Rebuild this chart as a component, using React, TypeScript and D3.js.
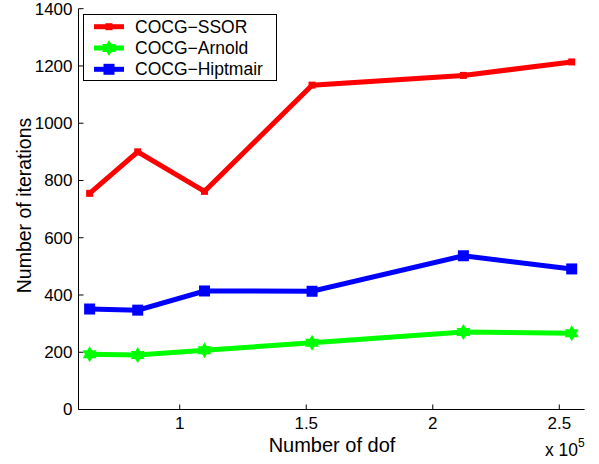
import React from 'react';
import * as d3 from 'd3';

const dof = [0.644, 0.834, 1.098, 1.523, 2.121, 2.549]; // x 1e5
const ssor = [755, 900, 762, 1133, 1167, 1214];
const arnold = [193, 190, 207, 233, 271, 266];
const hiptmair = [351, 347, 414, 413, 537, 491];
const seriesNames = ['COCG−SSOR', 'COCG−Arnold', 'COCG−Hiptmair'];
const seriesColors = ['#ff0000', '#00ff00', '#0000ff'];
const seriesMarkers = ['smallsquare', 'hexagram', 'square'];
const xTicks = [1, 1.5, 2, 2.5];
const yTicks = [0, 200, 400, 600, 800, 1000, 1200, 1400];
const xLabel = 'Number of dof';
const yLabel = 'Number of iterations';

const W = 599, H = 464;
const left = 78.5, right = 584.6, top = 8.7, bottom = 409.5;
const FONT = '"Liberation Sans", Arial, Helvetica, sans-serif';

function hexagram(r: number) {
  const pts: [number, number][] = [];
  const ri = r * 0.58;
  for (let i = 0; i < 12; i++) {
    const a = -Math.PI / 2 + (i * Math.PI) / 6;
    const rr = i % 2 === 0 ? r : ri;
    pts.push([rr * Math.cos(a), rr * Math.sin(a)]);
  }
  return 'M' + pts.map((p) => p[0].toFixed(2) + ',' + p[1].toFixed(2)).join('L') + 'Z';
}

function Marker({ kind, x, y, color }: { kind: string; x: number; y: number; color: string }) {
  if (kind === 'square') {
    const s = 11;
    return <rect x={x - s / 2} y={y - s / 2} width={s} height={s} fill={color} />;
  }
  if (kind === 'smallsquare') {
    const s = 7;
    return <rect x={x - s / 2} y={y - s / 2} width={s} height={s} fill={color} />;
  }
  return <path d={hexagram(8)} transform={`translate(${x},${y})`} fill={color} />;
}

export default function App() {
  const xs = d3.scaleLinear().domain([0.6, 2.6]).range([left, right]);
  const ys = d3.scaleLinear().domain([0, 1400]).range([bottom, top]);
  const data = [ssor, arnold, hiptmair];
  const line = d3
    .line<number>()
    .x((_, i) => xs(dof[i]))
    .y((d) => ys(d));

  return (
    <svg
      width={W}
      height={H}
      style={{ position: 'absolute', left: 0, top: 0, background: '#fff' }}
      fontFamily={FONT}
    >
      <rect x={0} y={0} width={W} height={H} fill="#fff" />
      {/* axes */}
      <line x1={left} x2={left} y1={top} y2={bottom} stroke="#000" strokeWidth={1} />
      <line x1={left} x2={right} y1={bottom} y2={bottom} stroke="#000" strokeWidth={1} />
      {yTicks.map((t) => (
        <g key={'y' + t}>
          <line x1={left} x2={left + 5} y1={ys(t)} y2={ys(t)} stroke="#000" />
          <text x={left - 6} y={ys(t)} dy="0.35em" textAnchor="end" fontSize={17}>
            {t}
          </text>
        </g>
      ))}
      {xTicks.map((t) => (
        <g key={'x' + t}>
          <line x1={xs(t)} x2={xs(t)} y1={bottom} y2={bottom - 5} stroke="#000" />
          <text x={xs(t)} y={429} textAnchor="middle" fontSize={17}>
            {t}
          </text>
        </g>
      ))}
      <text x={332} y={451.5} textAnchor="middle" fontSize={20}>
        {xLabel}
      </text>
      <text
        transform={`translate(31,205.5) rotate(-90)`}
        textAnchor="middle"
        fontSize={19.5}
      >
        {yLabel}
      </text>
      <text x={545} y={456} fontSize={17.5}>
        x 10
        <tspan dy={-9} fontSize={12}>
          5
        </tspan>
      </text>
      {/* series */}
      {data.map((d, si) => (
        <g key={'s' + si}>
          <path d={line(d) || ''} fill="none" stroke={seriesColors[si]} strokeWidth={5} />
          {d.map((v, i) => (
            <Marker key={i} kind={seriesMarkers[si]} x={xs(dof[i])} y={ys(v)} color={seriesColors[si]} />
          ))}
        </g>
      ))}
      {/* legend */}
      <g>
        <rect x={83.5} y={14.5} width={193} height={66} fill="#fff" stroke="#000" strokeWidth={1} />
        {seriesNames.map((n, i) => {
          const cy = 26.7 + i * 21.3;
          return (
            <g key={'l' + i}>
              <line x1={94} x2={124} y1={cy} y2={cy} stroke={seriesColors[i]} strokeWidth={5} />
              <Marker kind={seriesMarkers[i]} x={109} y={cy} color={seriesColors[i]} />
              <text x={135} y={cy} dy="0.35em" fontSize={17.5}>
                {n}
              </text>
            </g>
          );
        })}
      </g>
    </svg>
  );
}
